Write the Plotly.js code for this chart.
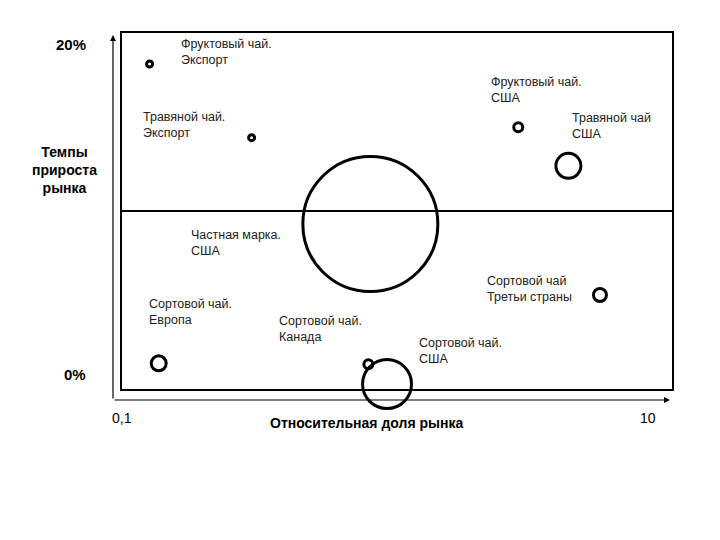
<!DOCTYPE html>
<html>
<head>
<meta charset="utf-8">
<script src="https://cdn.plot.ly/plotly-3.0.1.min.js"></script>
<style>html,body{margin:0;padding:0;background:#fff;}#chart{width:720px;height:540px;}</style>
</head>
<body>
<div id="chart"></div>
<script>
// Data: relative market share (log scale 0.1–10), market growth (%), bubble size
var names = ["Фруктовый чай. Экспорт", "Травяной чай. Экспорт", "Частная марка. США",
  "Фруктовый чай. США", "Травяной чай США", "Сортовой чай. Европа",
  "Сортовой чай. Канада", "Сортовой чай. США", "Сортовой чай Третьи страны"];
var relShare = [0.126, 0.296, 0.80, 2.76, 4.2, 0.136, 0.787, 0.92, 5.47];
var growth = [18.26, 14.12, 9.27, 14.7, 12.54, 1.44, 1.39, 0.28, 5.28];
var bubbleSize = [6, 6, 135, 9, 25, 15, 9, 49, 13];

var labelTexts = ["Фруктовый чай.<br>Экспорт", "Травяной чай.<br>Экспорт", "Частная марка.<br>США",
  "Фруктовый чай.<br>США", "Травяной чай<br>США", "Сортовой чай.<br>Европа",
  "Сортовой чай.<br>Канада", "Сортовой чай.<br>США", "Сортовой чай<br>Третьи страны"];
// label anchor positions (pixel coords in the 720x540 page)
var labelPx = [179, 141, 189, 489, 570, 147, 277, 417, 485];
var labelPy = [52, 125, 243, 90, 126, 312, 329, 351, 289];

var xTickLabels = ["0,1", "10"];
var yTickLabels = ["20%", "0%"];
var yTitle = "Темпы<br>прироста<br>рынка";
var xTitle = "Относительная доля рынка";

var L = 122, R = 672, T = 33, B = 389;
function px2x(p){ return (p - L) / (R - L); }
function py2y(p){ return (B - p) / (B - T); }

var trace = {
  type: "scatter", mode: "markers",
  x: relShare, y: growth, text: names, hoverinfo: "text",
  cliponaxis: false,
  marker: { size: bubbleSize, sizemode: "diameter", color: "rgba(255,255,255,0)", opacity: 1,
    line: { color: "#000", width: 3 } }
};

var font = "Liberation Sans, Arial, sans-serif";
var annotations = [];
for (var i = 0; i < labelTexts.length; i++) {
  annotations.push({ xref: "paper", yref: "paper", x: px2x(labelPx[i]), y: py2y(labelPy[i]),
    xanchor: "left", yanchor: "middle", align: "left", showarrow: false,
    text: labelTexts[i], font: { family: font, size: 12.5, color: "#222" } });
}
annotations.push({ xref: "paper", yref: "paper", x: px2x(71), y: py2y(45), xanchor: "center", yanchor: "middle",
  showarrow: false, text: "<b>" + yTickLabels[0] + "</b>", font: { family: font, size: 15, color: "#000" } });
annotations.push({ xref: "paper", yref: "paper", x: px2x(75), y: py2y(374), xanchor: "center", yanchor: "middle",
  showarrow: false, text: "<b>" + yTickLabels[1] + "</b>", font: { family: font, size: 15, color: "#000" } });
annotations.push({ xref: "paper", yref: "paper", x: px2x(64), y: py2y(170), xanchor: "center", yanchor: "middle",
  align: "center", showarrow: false, text: "<b>" + yTitle + "</b>", font: { family: font, size: 14, color: "#000" } });
annotations.push({ xref: "paper", yref: "paper", x: px2x(122), y: py2y(418), xanchor: "center", yanchor: "middle",
  showarrow: false, text: xTickLabels[0], font: { family: font, size: 14, color: "#000" } });
annotations.push({ xref: "paper", yref: "paper", x: px2x(648), y: py2y(418), xanchor: "center", yanchor: "middle",
  showarrow: false, text: xTickLabels[1], font: { family: font, size: 14, color: "#000" } });
annotations.push({ xref: "paper", yref: "paper", x: px2x(366), y: py2y(423), xanchor: "center", yanchor: "middle",
  showarrow: false, text: "<b>" + xTitle + "</b>", font: { family: font, size: 14, color: "#000" } });
// outer axis arrows
annotations.push({ xref: "paper", yref: "paper", x: px2x(113), y: py2y(35), ax: 0, ay: 365,
  showarrow: true, text: "", arrowhead: 2, arrowsize: 1, arrowwidth: 1.2, arrowcolor: "#000" });
annotations.push({ xref: "paper", yref: "paper", x: px2x(670), y: py2y(400), ax: -557, ay: 0,
  showarrow: true, text: "", arrowhead: 2, arrowsize: 1, arrowwidth: 1.2, arrowcolor: "#000" });

var layout = {
  width: 720, height: 540,
  margin: { l: L, r: 720 - R, t: T, b: 540 - B },
  paper_bgcolor: "#fff", plot_bgcolor: "#fff",
  showlegend: false,
  xaxis: { type: "log", range: [-1, 1], showgrid: false, zeroline: false, showticklabels: false,
    ticks: "", showline: true, mirror: true, linecolor: "#000", linewidth: 2 },
  yaxis: { range: [0, 20], showgrid: false, zeroline: false, showticklabels: false,
    ticks: "", showline: true, mirror: true, linecolor: "#000", linewidth: 2 },
  shapes: [
    { type: "line", xref: "x", yref: "paper", x0: 0, x1: 0, y0: 0, y1: 1, line: { color: "#000", width: 1 }, layer: "below" },
    { type: "line", xref: "paper", yref: "y", x0: 0, x1: 1, y0: 10, y1: 10, line: { color: "#000", width: 2 }, layer: "below" }
  ],
  annotations: annotations
};

Plotly.newPlot("chart", [trace], layout, { staticPlot: true });
</script>
</body>
</html>
